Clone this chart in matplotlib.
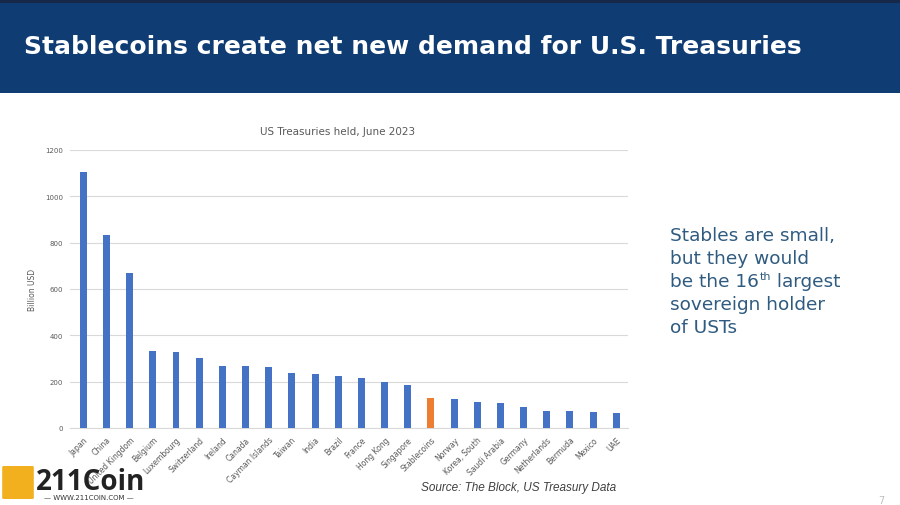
import matplotlib
matplotlib.use("Agg")
import matplotlib.pyplot as plt
from matplotlib.patches import Rectangle, FancyBboxPatch

# ---- data ----
countries = ["Japan", "China", "United Kingdom", "Belgium", "Luxembourg", "Switzerland",
             "Ireland", "Canada", "Cayman Islands", "Taiwan", "India", "Brazil", "France",
             "Hong Kong", "Singapore", "Stablecoins", "Norway", "Korea, South",
             "Saudi Arabia", "Germany", "Netherlands", "Bermuda", "Mexico", "UAE"]
holdings = [1104, 835, 670, 331, 329, 304, 269, 269, 262, 239, 233, 226, 217,
            197, 186, 128, 124, 112, 107, 91, 74, 74, 70, 64]
highlight = "Stablecoins"
yticks = [0, 200, 400, 600, 800, 1000, 1200]

W, H = 900, 506
fig = plt.figure(figsize=(9, 5.06), dpi=100)
fig.patch.set_facecolor("white")

def fx(px):
    return px / W

def fy(py):
    return 1 - py / H

# header band
fig.patches.append(Rectangle((0, fy(94)), 1, 94 / H, transform=fig.transFigure,
                             facecolor="#0E3C73", edgecolor="none", zorder=0))
fig.patches.append(Rectangle((0, fy(4)), 1, 4 / H, transform=fig.transFigure,
                             facecolor="#16294A", edgecolor="none", zorder=1))
fig.text(fx(24), fy(47), "Stablecoins create net new demand for U.S. Treasuries",
         color="white", fontsize=18, fontweight="bold", family="DejaVu Sans",
         va="center", ha="left")

# chart
ax = fig.add_axes([fx(70), fy(429), fx(628) - fx(70), (429 - 151) / H])
colors = ["#ED7D31" if c == highlight else "#4472C4" for c in countries]
x = list(range(len(countries)))
ax.bar(x, holdings, width=0.3, color=colors, zorder=3)
ax.set_xlim(-0.575, len(countries) - 0.495)
ax.set_ylim(0, 1200)
ax.set_yticks(yticks)
ax.set_yticklabels([str(v) for v in yticks], fontsize=5, color="#595959")
ax.set_xticks(x)
ax.set_xticklabels(countries, rotation=45, ha="right", rotation_mode="anchor",
                   fontsize=5.5, color="#595959")
ax.tick_params(axis="both", length=0, pad=5)
ax.grid(axis="y", color="#D9D9D9", linewidth=0.8, zorder=0)
for s in ["top", "right", "left"]:
    ax.spines[s].set_visible(False)
ax.spines["bottom"].set_color("#D9D9D9")
ax.spines["bottom"].set_linewidth(0.8)
ax.set_ylabel("Billion USD", fontsize=5.5, color="#595959", labelpad=6)
ax.set_facecolor("white")

fig.text(fx(338), fy(132), "US Treasuries held, June 2023", fontsize=7.5,
         color="#595959", ha="center", va="center")

# right-hand text
tcolor = "#2F5B80"
fs = 13.3
fam = "DejaVu Sans"
lines_y = [236, 259, 282, 305, 328]
for ln, yy in zip(["Stables are small,", "but they would", None,
                   "sovereign holder", "of USTs"], lines_y):
    if ln is not None:
        fig.text(fx(670), fy(yy), ln, fontsize=fs, color=tcolor, family=fam,
                 va="center", ha="left")
renderer = fig.canvas.get_renderer()
t1 = fig.text(fx(670), fy(282), "be the 16", fontsize=fs, color=tcolor,
              family=fam, va="center", ha="left")
bb = t1.get_window_extent(renderer)
t2 = fig.text(bb.x1 / W + 0.0005, fy(277), "th", fontsize=8, color=tcolor,
              family=fam, va="center", ha="left")
bb2 = t2.get_window_extent(renderer)
fig.text(bb2.x1 / W, fy(282), " largest", fontsize=fs, color=tcolor,
         family=fam, va="center", ha="left")

# source & page number
fig.text(fx(421), fy(488), "Source: The Block, US Treasury Data", fontsize=8.5,
         style="italic", color="#404040", family="Liberation Sans", va="center")
fig.text(fx(878), fy(501), "7", fontsize=7, color="#BFBFBF", va="center")

# watermark logo
fig.patches.append(FancyBboxPatch((fx(4), fy(499)), fx(28), 31 / H,
                                  boxstyle="round,pad=0.002", transform=fig.transFigure,
                                  facecolor="#F2B01E", edgecolor="none", zorder=5))
fig.text(fx(36), fy(482), "211Coin", fontsize=20, fontweight="bold", color="#222222",
         family="Open Sans", va="center", ha="left", zorder=6)
fig.text(fx(44), fy(498), "\u2014 WWW.211COIN.COM \u2014", fontsize=5, color="#333333",
         va="center", ha="left", zorder=6)

fig.savefig("out.png", dpi=100)
